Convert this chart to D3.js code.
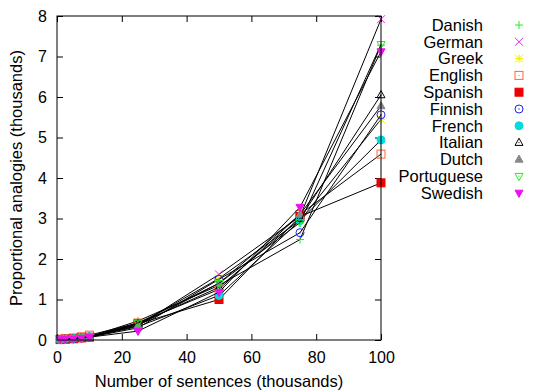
<!DOCTYPE html>
<html>
<head>
<meta charset="utf-8">
<script src="https://cdn.jsdelivr.net/npm/d3@7"></script>
<style>
  body { margin: 0; background: #fff; }
  text { font-family: "Liberation Sans", Arial, sans-serif; fill: #000; }
</style>
</head>
<body>
<div id="chart"></div>
<script>
// sentences (thousands)
const sizes = [1, 2.5, 5, 7.5, 10, 25, 50, 75, 100];

const languages = ["Danish", "German", "Greek", "English", "Spanish", "Finnish",
                   "French", "Italian", "Dutch", "Portuguese", "Swedish"];

// proportional analogies (thousands), one array per language
const danish     = [0.01, 0.02, 0.04, 0.06, 0.08, 0.47, 1.35, 2.48, 7.28];
const german     = [0.01, 0.02, 0.04, 0.06, 0.08, 0.35, 1.62, 3.05, 7.92];
const greek      = [0.01, 0.02, 0.04, 0.06, 0.08, 0.38, 1.52, 2.95, 5.45];
const english    = [0.02, 0.03, 0.05, 0.08, 0.12, 0.42, 1.25, 3.10, 4.59];
const spanish    = [0.01, 0.02, 0.03, 0.05, 0.07, 0.40, 1.00, 3.05, 3.88];
const finnish    = [0.01, 0.02, 0.03, 0.05, 0.07, 0.30, 1.50, 2.65, 5.56];
const french     = [0.01, 0.02, 0.04, 0.06, 0.08, 0.33, 1.10, 2.95, 4.94];
const italian    = [0.01, 0.02, 0.04, 0.06, 0.08, 0.40, 1.30, 3.00, 6.05];
const dutch      = [0.01, 0.02, 0.04, 0.06, 0.08, 0.36, 1.40, 3.10, 5.78];
const portuguese = [0.01, 0.02, 0.04, 0.06, 0.08, 0.42, 1.40, 2.90, 7.30];
const swedish    = [0.01, 0.02, 0.03, 0.05, 0.07, 0.22, 1.18, 3.28, 7.12];

const xTicks = [0, 20, 40, 60, 80, 100];
const yTicks = [0, 1, 2, 3, 4, 5, 6, 7, 8];

const seriesValues = [danish, german, greek, english, spanish, finnish,
                      french, italian, dutch, portuguese, swedish];

// marker style per language
const styles = [
  {shape: "plus",   color: "#22ee22", fill: false},
  {shape: "cross",  color: "#ee22ee", fill: false},
  {shape: "star",   color: "#eeee00", fill: false},
  {shape: "square", color: "#ff6633", fill: false},
  {shape: "square", color: "#ee0000", fill: true},
  {shape: "circle", color: "#2222ee", fill: false},
  {shape: "circle", color: "#00dddd", fill: true},
  {shape: "tri",    color: "#000000", fill: false},
  {shape: "tri",    color: "#888888", fill: true},
  {shape: "itri",   color: "#22ee22", fill: false},
  {shape: "itri",   color: "#ee11ee", fill: true}
];

const W = 533, H = 392;
const margin = {top: 16, right: 152, bottom: 52, left: 57};
const width = W - margin.left - margin.right,
      height = H - margin.top - margin.bottom;

const svg = d3.select("#chart").append("svg")
    .attr("width", W).attr("height", H);
const g = svg.append("g")
    .attr("transform", "translate(" + margin.left + "," + margin.top + ")");

const x = d3.scaleLinear().domain([0, 100]).range([0, width]);
const y = d3.scaleLinear().domain([0, 8]).range([height, 0]);

// ticks (inward, mirrored)
g.append("g").attr("transform", `translate(0,${height})`)
  .call(d3.axisBottom(x).tickValues(xTicks).tickSize(-6).tickPadding(12))
  .call(a => a.select(".domain").remove());
g.append("g")
  .call(d3.axisTop(x).tickValues(xTicks).tickSize(-6).tickFormat(""))
  .call(a => a.select(".domain").remove());
g.append("g")
  .call(d3.axisLeft(y).tickValues(yTicks).tickSize(-6).tickPadding(10))
  .call(a => a.select(".domain").remove());
g.append("g").attr("transform", `translate(${width},0)`)
  .call(d3.axisRight(y).tickValues(yTicks).tickSize(-6).tickFormat(""))
  .call(a => a.select(".domain").remove());

g.selectAll(".tick text").style("font-size", "16px")
  .style("font-family", "'Liberation Sans', Arial, sans-serif");
g.selectAll(".tick line").attr("stroke", "#000");

function marker(sel, st, size) {
  const s = size;
  if (st.shape === "plus") {
    sel.append("path").attr("d", `M${-s},0H${s}M0,${-s}V${s}`)
      .attr("stroke", st.color).attr("fill", "none");
  } else if (st.shape === "cross") {
    sel.append("path").attr("d", `M${-s},${-s}L${s},${s}M${-s},${s}L${s},${-s}`)
      .attr("stroke", st.color).attr("fill", "none");
  } else if (st.shape === "star") {
    sel.append("path").attr("d", `M${-s},0H${s}M0,${-s}V${s}M${-s},${-s}L${s},${s}M${-s},${s}L${s},${-s}`)
      .attr("stroke", st.color).attr("fill", "none");
  } else if (st.shape === "square") {
    sel.append("rect").attr("x", -s).attr("y", -s).attr("width", 2 * s).attr("height", 2 * s)
      .attr("stroke", st.color).attr("fill", st.fill ? st.color : "none");
    if (!st.fill) sel.append("rect").attr("x", -0.5).attr("y", -0.5).attr("width", 1).attr("height", 1).attr("fill", st.color);
  } else if (st.shape === "circle") {
    sel.append("circle").attr("r", s)
      .attr("stroke", st.color).attr("fill", st.fill ? st.color : "none");
    if (!st.fill) sel.append("circle").attr("r", 0.7).attr("fill", st.color);
  } else if (st.shape === "tri") {
    sel.append("path").attr("d", `M0,${-s * 1.1}L${s},${s * 0.7}L${-s},${s * 0.7}Z`)
      .attr("stroke", st.color).attr("fill", st.fill ? st.color : "none");
    if (!st.fill) sel.append("circle").attr("r", 0.6).attr("fill", st.color);
  } else if (st.shape === "itri") {
    sel.append("path").attr("d", `M0,${s * 1.1}L${s},${-s * 0.7}L${-s},${-s * 0.7}Z`)
      .attr("stroke", st.color).attr("fill", st.fill ? st.color : "none");
    if (!st.fill) sel.append("circle").attr("r", 0.6).attr("fill", st.color);
  }
}

const line = d3.line().x(d => x(d[0])).y(d => y(d[1]));

languages.forEach((lang, i) => {
  const pts = sizes.map((s, j) => [s, seriesValues[i][j]]);
  g.append("path").datum(pts)
    .attr("fill", "none").attr("stroke", "#000").attr("stroke-width", 1)
    .attr("d", line);
  pts.forEach(p => {
    const m = g.append("g").attr("transform", `translate(${x(p[0])},${y(p[1])})`);
    marker(m, styles[i], 4);
  });
});

// frame
g.append("rect").attr("width", width).attr("height", height)
  .attr("fill", "none").attr("stroke", "#000").attr("stroke-width", 1);

// axis titles
svg.append("text")
  .attr("x", margin.left + width / 2).attr("y", 387)
  .attr("text-anchor", "middle").style("font-size", "16.5px")
  .text("Number of sentences (thousands)");
svg.append("text")
  .attr("transform", `translate(22,${margin.top + height / 2}) rotate(-90)`)
  .attr("text-anchor", "middle").style("font-size", "16.5px")
  .text("Proportional analogies (thousands)");

// legend
const legend = svg.append("g");
languages.forEach((lang, i) => {
  const ly = 25 + i * 16.8;
  legend.append("text").attr("x", 483).attr("y", ly).attr("dy", "0.35em")
    .attr("text-anchor", "end").style("font-size", "16.5px").text(lang);
  const m = legend.append("g").attr("transform", `translate(519,${ly})`);
  marker(m, styles[i], 4);
});
</script>
</body>
</html>
